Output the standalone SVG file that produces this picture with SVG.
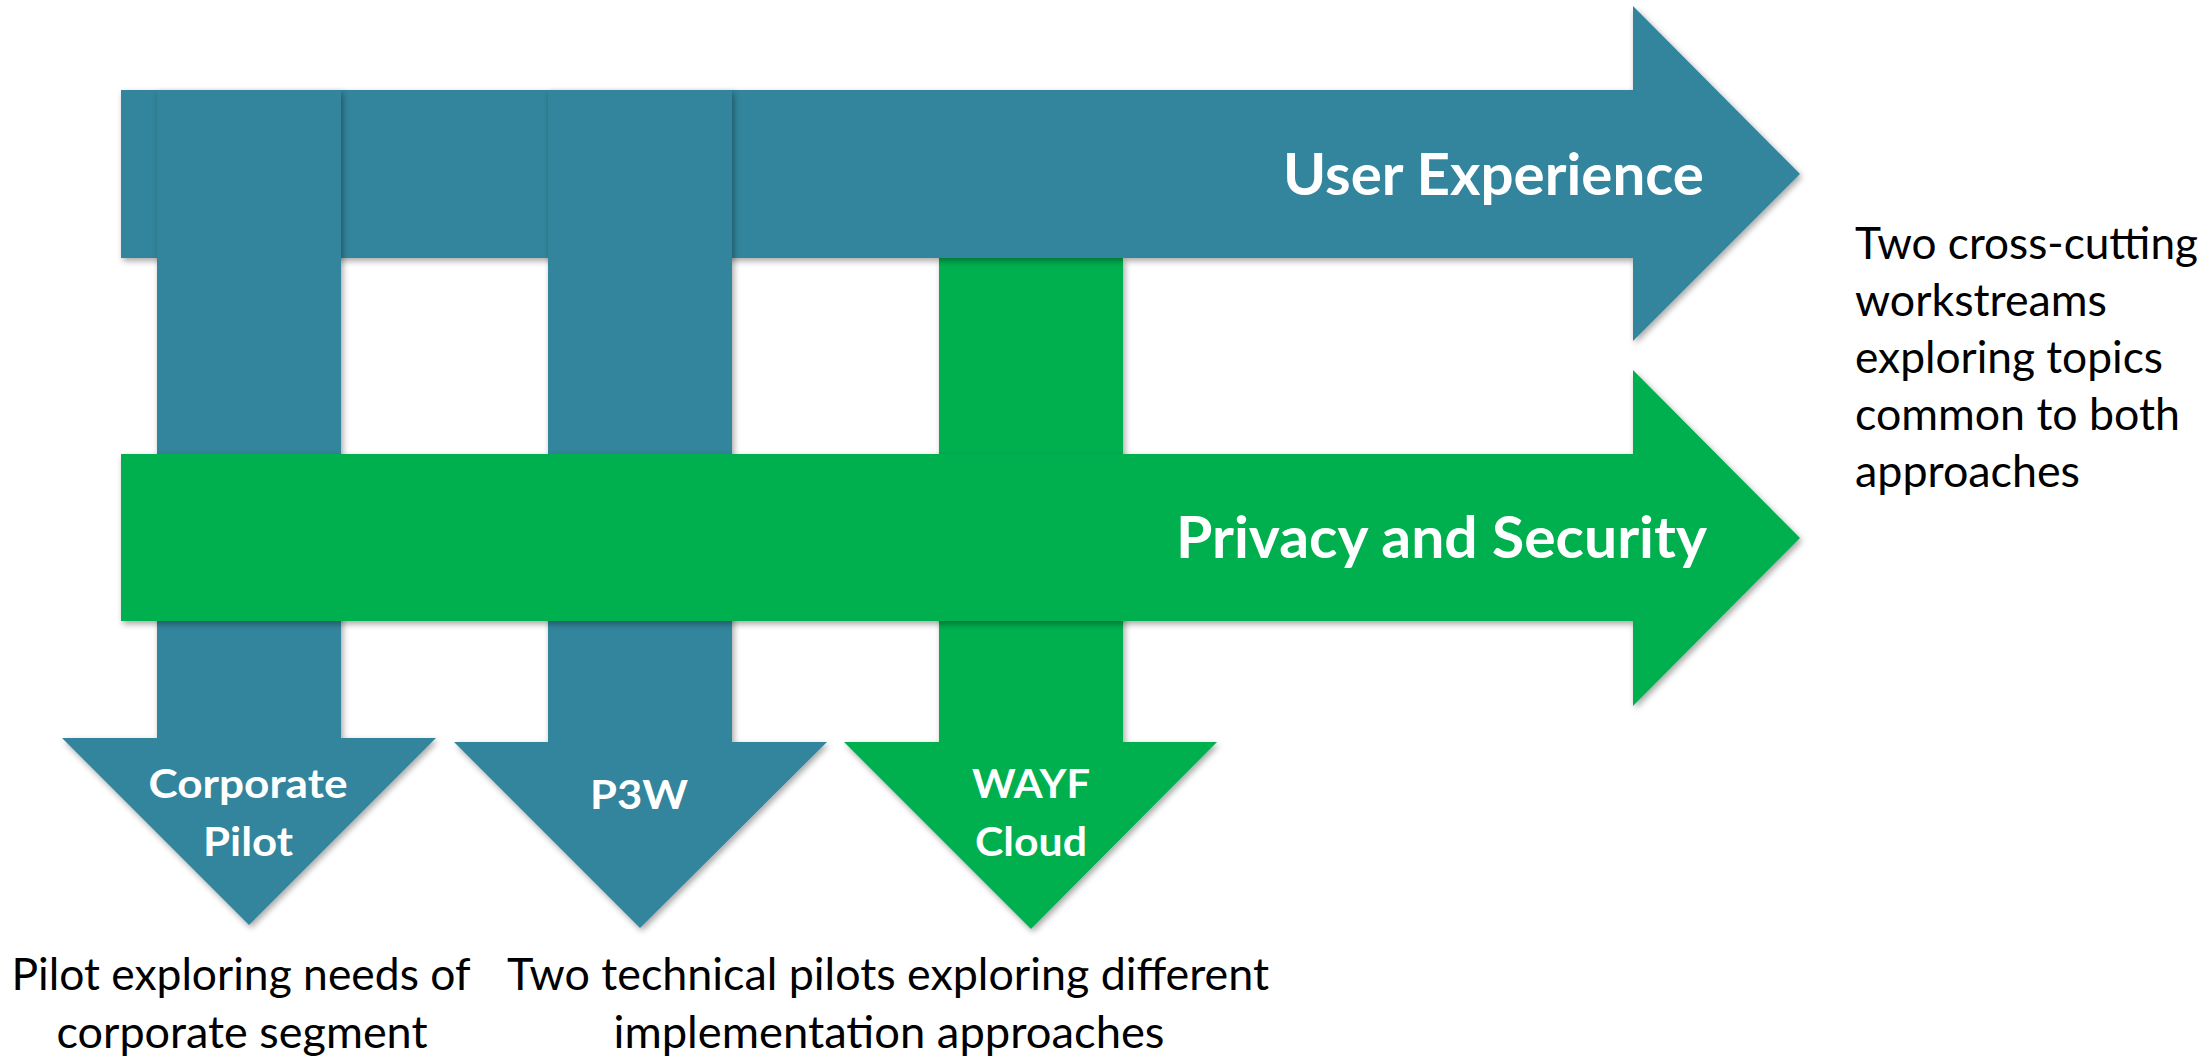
<svg xmlns="http://www.w3.org/2000/svg" width="2211" height="1057" viewBox="0 0 2211 1057">
<defs>
<filter id="sh" x="-5%" y="-5%" width="115%" height="115%">
<feDropShadow dx="2" dy="3" stdDeviation="3" flood-color="#000" flood-opacity="0.35"/>
</filter>
<style>
.blue{fill:#31859C;filter:url(#sh)}
.green{fill:#00B050;filter:url(#sh)}
.lbl{font-family:Lato,"Liberation Sans",sans-serif;font-weight:bold;fill:#fff}
.big{font-size:58px}
.mid{font-size:41px;text-anchor:middle}
.note{font-family:Lato,"Liberation Sans",sans-serif;font-size:44px;fill:#000}
.c{text-anchor:middle}
</style>
</defs>
<rect width="2211" height="1057" fill="#fff"/>
<g id="connectors"/>
<g id="wayf-cloud">
<path class="green" d="M939,258 H1123 V742 H1217 L1031,929 L844,742 H939 Z"/>
<text class="lbl mid" x="1031" y="798" textLength="118" lengthAdjust="spacingAndGlyphs">WAYF</text>
<text class="lbl mid" x="1031" y="856" textLength="112" lengthAdjust="spacingAndGlyphs">Cloud</text>
</g>
<g id="user-experience">
<path class="blue" d="M121,90 H1633 V6 L1800,174 L1633,341 V258 H121 Z"/>
<text class="lbl big" x="1283" y="195" textLength="421" lengthAdjust="spacingAndGlyphs">User Experience</text>
</g>
<g id="corporate-pilot">
<path class="blue" d="M157,90 H341 V738 H436 L249,925 L62,738 H157 Z"/>
</g>
<g id="p3w">
<path class="blue" d="M548,90 H732 V742 H827 L640,928 L454,742 H548 Z"/>
</g>
<g id="privacy-security">
<path class="green" d="M121,454 H1633 V370 L1800,538 L1633,706 V621 H121 Z"/>
<text class="lbl big" x="1176" y="558" textLength="531" lengthAdjust="spacingAndGlyphs">Privacy and Security</text>
</g>
<g id="corporate-pilot-label">
<text class="lbl mid" x="248" y="798" textLength="199" lengthAdjust="spacingAndGlyphs">Corporate</text>
<text class="lbl mid" x="248" y="856" textLength="90" lengthAdjust="spacingAndGlyphs">Pilot</text>
</g>
<g id="p3w-label">
<text class="lbl mid" x="639" y="809" textLength="98" lengthAdjust="spacingAndGlyphs">P3W</text>
</g>
<g id="note-right">
<text class="note" x="1855" y="259" textLength="343" lengthAdjust="spacingAndGlyphs">Two cross-cutting</text>
<text class="note" x="1855" y="316" textLength="252" lengthAdjust="spacingAndGlyphs">workstreams</text>
<text class="note" x="1855" y="373" textLength="308" lengthAdjust="spacingAndGlyphs">exploring topics</text>
<text class="note" x="1855" y="430" textLength="325" lengthAdjust="spacingAndGlyphs">common to both</text>
<text class="note" x="1855" y="487" textLength="225" lengthAdjust="spacingAndGlyphs">approaches</text>
</g>
<g id="note-corporate">
<text class="note c" x="241" y="990" textLength="459" lengthAdjust="spacingAndGlyphs">Pilot exploring needs of</text>
<text class="note c" x="242" y="1048" textLength="371" lengthAdjust="spacingAndGlyphs">corporate segment</text>
</g>
<g id="note-technical">
<text class="note c" x="888" y="990" textLength="762" lengthAdjust="spacingAndGlyphs">Two technical pilots exploring different</text>
<text class="note c" x="889" y="1048" textLength="551" lengthAdjust="spacingAndGlyphs">implementation approaches</text>
</g>
</svg>
